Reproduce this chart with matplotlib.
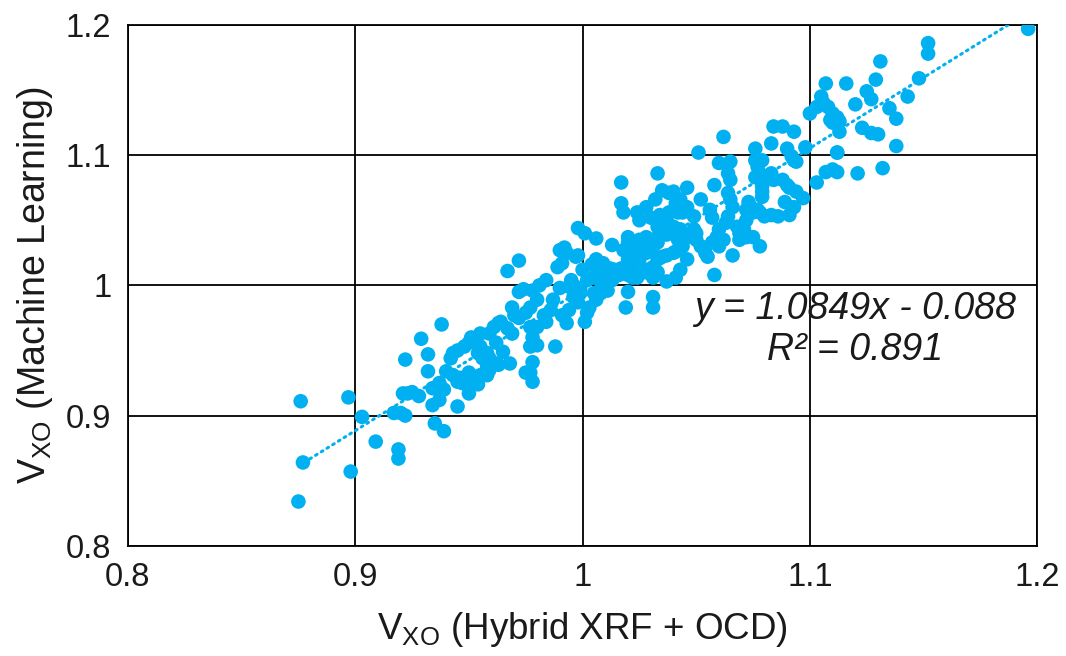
import matplotlib
matplotlib.use("Agg")
import matplotlib.pyplot as plt
import numpy as np

# V_XO values: hybrid XRF + OCD (x) vs machine learning (y)
x_hybrid = [
    0.876, 0.897, 0.903, 0.877, 0.898, 0.875, 0.909, 0.919, 0.919, 0.917,
    0.920, 0.922, 0.921, 0.922, 0.929, 0.938, 0.932, 0.932, 0.925, 0.928,
    0.923, 0.935, 0.939, 0.934, 0.937, 0.945, 0.950, 0.934, 0.937, 0.939,
    0.940, 0.943, 0.945, 0.947, 0.946, 0.943, 0.945, 0.948, 0.950, 0.942,
    0.950, 0.952, 0.954, 0.949, 0.954, 0.956, 0.959, 0.962, 0.952, 0.955,
    0.958, 0.958, 0.959, 0.963, 0.965, 0.968, 0.958, 0.955, 0.951, 0.955,
    0.959, 0.961, 0.964, 0.967, 0.969, 0.962, 0.963, 0.969, 0.972, 0.970,
    0.975, 0.977, 0.980, 0.972, 0.967, 0.977, 0.978, 0.977, 0.980, 0.988,
    0.980, 0.984, 0.983, 0.986, 0.987, 0.978, 0.977, 0.975, 0.978, 0.984,
    0.981, 0.978, 0.974, 0.972, 0.989, 0.991, 0.992, 0.993, 0.990, 0.990,
    0.994, 0.996, 0.999, 0.996, 0.998, 0.994, 0.991, 0.993, 1.002, 1.005,
    1.008, 1.011, 1.013, 1.016, 1.020, 1.022, 1.025, 1.028, 1.031, 1.005,
    1.006, 1.003, 1.002, 1.001, 1.020, 1.019, 1.031, 1.031, 0.998, 1.001,
    1.006, 1.013, 0.998, 1.000, 1.004, 1.006, 1.009, 1.012, 0.997, 1.008,
    1.014, 1.017, 1.020, 1.022, 0.995, 0.999, 1.011, 1.008, 1.017, 1.017,
    1.018, 1.024, 1.025, 1.028, 1.030, 1.033, 1.022, 1.025, 1.028, 1.020,
    1.030, 1.033, 1.022, 1.034, 1.037, 1.041, 1.028, 1.031, 1.033, 1.037,
    1.041, 1.020, 1.018, 1.020, 1.024, 1.033, 1.051, 1.062, 1.038, 1.041,
    1.038, 1.034, 1.037, 1.041, 1.032, 1.037, 1.040, 1.035, 1.033, 1.025,
    1.042, 1.044, 1.040, 1.035, 1.033, 1.031, 1.028, 1.043, 1.046, 1.052,
    1.054, 1.055, 1.058, 1.066, 1.046, 1.040, 1.035, 1.043, 1.046, 1.044,
    1.049, 1.050, 1.052, 1.056, 1.057, 1.058, 1.060, 1.065, 1.064, 1.065,
    1.064, 1.065, 1.066, 1.064, 1.063, 1.060, 1.059, 1.062, 1.060, 1.057,
    1.049, 1.043, 1.046, 1.042, 1.068, 1.069, 1.072, 1.075, 1.072, 1.074,
    1.075, 1.077, 1.078, 1.071, 1.072, 1.078, 1.083, 1.086, 1.091, 1.073,
    1.076, 1.076, 1.077, 1.078, 1.080, 1.083, 1.084, 1.079, 1.079, 1.079,
    1.079, 1.076, 1.083, 1.084, 1.088, 1.093, 1.090, 1.092, 1.094, 1.098,
    1.088, 1.090, 1.091, 1.094, 1.089, 1.093, 1.097, 1.080, 1.069, 1.050,
    1.103, 1.100, 1.103, 1.106, 1.108, 1.105, 1.110, 1.110, 1.112, 1.110,
    1.107, 1.112, 1.107, 1.116, 1.129, 1.131, 1.125, 1.127, 1.120, 1.135,
    1.138, 1.109, 1.112, 1.113, 1.113, 1.123, 1.127, 1.130, 1.093, 1.138,
    1.112, 1.121, 1.132, 1.143, 1.148, 1.152, 1.152, 1.196,
]
y_ml = [
    0.911, 0.914, 0.899, 0.864, 0.857, 0.834, 0.880, 0.874, 0.867, 0.902,
    0.902, 0.900, 0.917, 0.943, 0.959, 0.970, 0.947, 0.934, 0.918, 0.915,
    0.917, 0.894, 0.888, 0.908, 0.912, 0.907, 0.917, 0.921, 0.925, 0.920,
    0.934, 0.931, 0.926, 0.925, 0.929, 0.948, 0.950, 0.953, 0.956, 0.944,
    0.933, 0.927, 0.924, 0.927, 0.948, 0.944, 0.944, 0.940, 0.930, 0.931,
    0.931, 0.937, 0.935, 0.939, 0.949, 0.940, 0.948, 0.953, 0.960, 0.963,
    0.963, 0.968, 0.972, 0.967, 0.963, 0.956, 0.971, 0.983, 0.975, 0.977,
    0.979, 0.983, 0.989, 1.019, 1.011, 0.968, 0.960, 0.953, 0.954, 0.953,
    0.968, 0.972, 0.977, 0.981, 0.989, 0.941, 0.933, 0.933, 0.926, 1.004,
    1.000, 0.996, 0.997, 0.995, 1.014, 1.017, 1.029, 1.025, 1.027, 0.998,
    0.999, 1.000, 0.998, 0.991, 0.987, 0.981, 0.977, 0.971, 1.004, 1.006,
    1.003, 1.006, 1.004, 1.008, 1.010, 1.014, 1.020, 1.025, 1.030, 0.994,
    0.989, 0.983, 0.979, 0.972, 0.995, 0.983, 0.991, 0.983, 1.044, 1.040,
    1.036, 1.031, 1.023, 1.012, 1.016, 1.020, 1.017, 1.013, 1.022, 1.014,
    1.012, 1.013, 1.008, 1.006, 1.004, 0.994, 0.996, 0.994, 1.079, 1.063,
    1.056, 1.056, 1.050, 1.060, 1.052, 1.045, 1.033, 1.035, 1.037, 1.033,
    1.031, 1.033, 1.026, 1.021, 1.023, 1.026, 1.012, 1.006, 1.010, 1.003,
    1.006, 1.037, 1.027, 1.020, 1.006, 1.086, 1.102, 1.114, 1.071, 1.063,
    1.056, 1.054, 1.039, 1.043, 1.066, 1.050, 1.045, 1.041, 1.037, 1.029,
    1.035, 1.030, 1.025, 1.022, 1.020, 1.014, 1.010, 1.012, 1.020, 1.030,
    1.025, 1.022, 1.008, 1.023, 1.075, 1.072, 1.073, 1.066, 1.060, 1.056,
    1.053, 1.040, 1.066, 1.058, 1.052, 1.077, 1.094, 1.095, 1.086, 1.081,
    1.071, 1.066, 1.060, 1.053, 1.048, 1.043, 1.037, 1.035, 1.030, 1.033,
    1.043, 1.043, 1.037, 1.056, 1.045, 1.040, 1.037, 1.037, 1.058, 1.060,
    1.056, 1.058, 1.030, 1.043, 1.050, 1.056, 1.054, 1.053, 1.054, 1.064,
    1.083, 1.096, 1.091, 1.086, 1.083, 1.086, 1.081, 1.076, 1.072, 1.068,
    1.096, 1.105, 1.109, 1.122, 1.122, 1.118, 1.105, 1.099, 1.095, 1.106,
    1.081, 1.077, 1.075, 1.072, 1.064, 1.060, 1.067, 1.053, 1.035, 1.035,
    1.079, 1.132, 1.137, 1.140, 1.137, 1.145, 1.132, 1.125, 1.102, 1.089,
    1.087, 1.087, 1.155, 1.155, 1.158, 1.172, 1.149, 1.143, 1.139, 1.136,
    1.128, 1.127, 1.129, 1.126, 1.118, 1.121, 1.117, 1.116, 1.096, 1.107,
    1.102, 1.086, 1.090, 1.145, 1.159, 1.186, 1.178, 1.197,
]

# linear trendline as printed on the chart
slope = 1.0849
intercept = -0.088
r_squared = 0.891

ticks = [0.8, 0.9, 1.0, 1.1, 1.2]
tick_labels = ["0.8", "0.9", "1", "1.1", "1.2"]

blue = "#00B0F0"

plt.rcParams["font.family"] = ["Liberation Sans", "DejaVu Sans"]
plt.rcParams["mathtext.fontset"] = "custom"
plt.rcParams["mathtext.rm"] = "Liberation Sans"
plt.rcParams["mathtext.it"] = "Liberation Sans:italic"

fig = plt.figure(figsize=(10.66, 6.56), dpi=100)
ax = fig.add_axes([0.120, 0.168, 0.853, 0.794])

ax.scatter(x_hybrid, y_ml, s=110, color=blue, edgecolors="none", zorder=3)

xs = np.array([min(x_hybrid), max(x_hybrid)])
ax.plot(xs, slope * xs + intercept, color=blue, linestyle=(0, (0.6, 1.6)),
        linewidth=2.2, dash_capstyle="round", zorder=4)

ax.set_xlim(0.8, 1.2)
ax.set_ylim(0.8, 1.2)
ax.set_xticks(ticks)
ax.set_xticklabels(tick_labels)
ax.set_yticks(ticks)
ax.set_yticklabels(tick_labels)
ax.tick_params(length=0, labelsize=23.5, pad=12, colors="#1a1a1a")
ax.grid(True, color="black", linewidth=1.3)
ax.set_axisbelow(True)
for sp in ax.spines.values():
    sp.set_color("black")
    sp.set_linewidth(1.3)

ax.set_xlabel(r"V$_{\mathrm{XO}}$ (Hybrid XRF + OCD)", fontsize=26.5,
              color="#1a1a1a", labelpad=12)
ax.set_ylabel(r"V$_{\mathrm{XO}}$ (Machine Learning)", fontsize=27,
              color="#1a1a1a", labelpad=8)

ax.text(1.120, 0.966,
        "y = %.4fx - %.3f\nR\u00b2 = %.3f" % (slope, -intercept, r_squared),
        ha="center", va="center", fontsize=27, style="italic",
        linespacing=1.2, color="#1a1a1a", zorder=5)

fig.savefig("out.png", dpi=100)
